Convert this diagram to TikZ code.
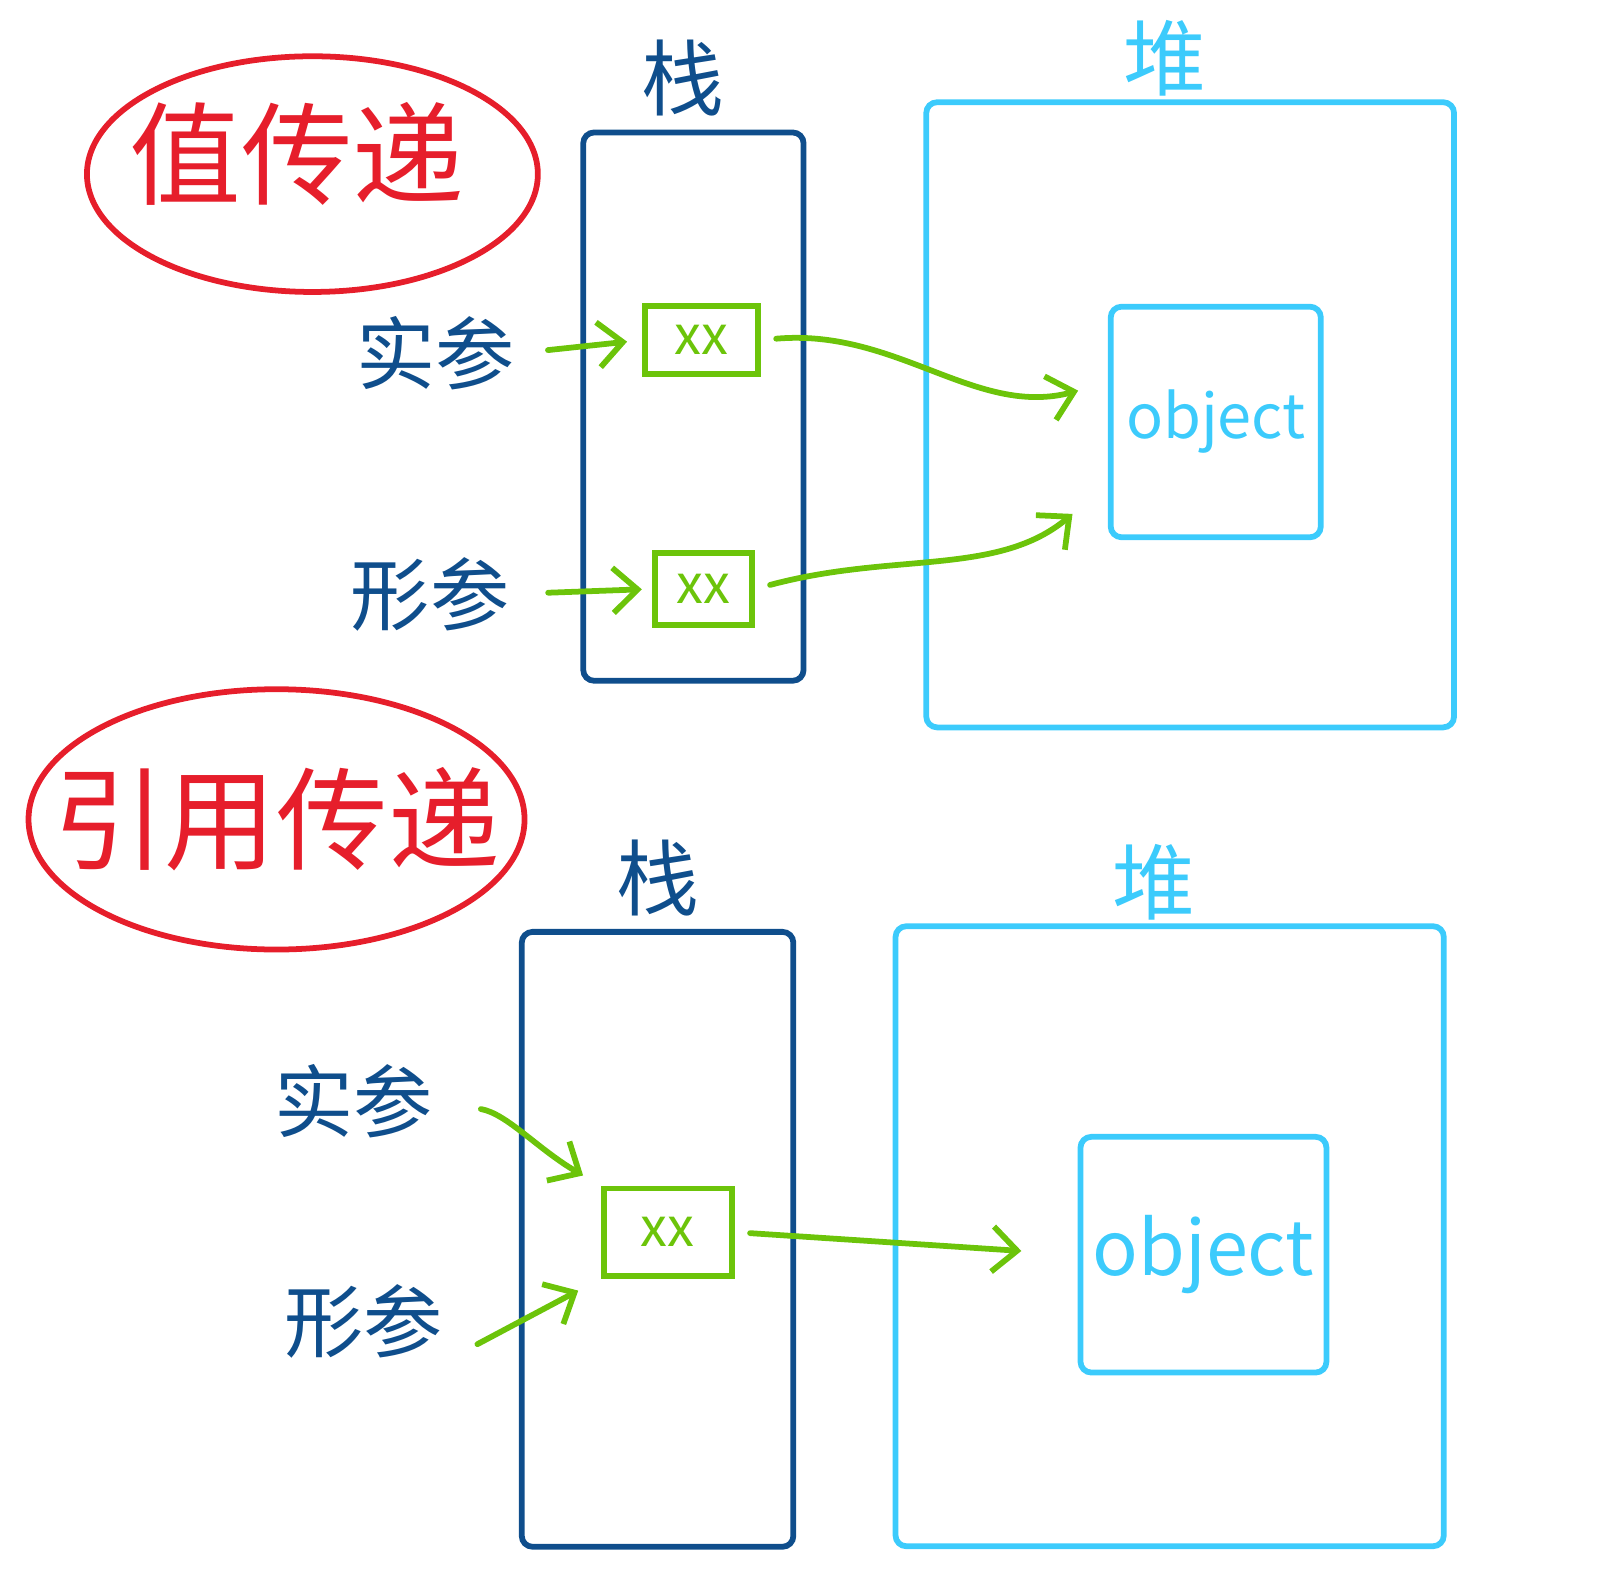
\documentclass[tikz,border=0pt]{standalone}
\usepackage{fontspec}
\setmainfont{Noto Sans CJK SC}
\usepackage{xcolor}
\usetikzlibrary{positioning, arrows.meta}

\definecolor{inkred}{HTML}{E61E2B}
\definecolor{inkblue}{HTML}{0F4E8C}
\definecolor{skyblue}{HTML}{3CCBFC}
\definecolor{leafgreen}{HTML}{6CC40A}

\begin{document}
\begin{tikzpicture}[
  x=0.01cm, y=-0.01cm,
  every node/.style={inner sep=0pt, line width=1.6pt},
  title/.style={text=inkred, font=\fontsize{31}{31}\selectfont},
  ring/.style={draw=inkred, line width=1.6pt},
  stackbox/.style={rectangle, draw=inkblue, rounded corners=3pt},
  heapbox/.style={rectangle, draw=skyblue, rounded corners=3pt},
  objbox/.style={rectangle, draw=skyblue, text=skyblue, rounded corners=3pt},
  slot/.style={rectangle, draw=leafgreen, text=leafgreen, font=\fontsize{15}{15}\selectfont},
  stacklabel/.style={text=inkblue, font=\fontsize{23}{23}\selectfont},
  heaplabel/.style={text=skyblue, font=\fontsize{23}{23}\selectfont},
  param/.style={text=inkblue, font=\fontsize{22}{22}\selectfont},
  flow/.style={draw=leafgreen, line width=1.6pt, line cap=round,
    -{Straight Barb[length=0.24cm, width=0.44cm, line width=1.6pt]}}
]
\useasboundingbox (0,0) rectangle (1568,1552);

% value passing
\node[title] (valtitle) at (290,150) {值传递};
\draw[ring] ([shift={(15,20)}]valtitle.center) ellipse [x radius=2.2cm, y radius=1.15cm];
\node[stackbox, minimum width=2.15cm, minimum height=5.35cm] (stacktop) at (677,397) {};
\node[stacklabel, above=0.1cm of stacktop, xshift=-0.1cm] (stacktoplabel) {栈};
\node[heapbox, minimum width=5.15cm, minimum height=6.1cm] (heaptop) at (1162,405) {};
\node[heaplabel, above=0.0cm of heaptop, xshift=-0.25cm] (heaptoplabel) {堆};
\node[objbox, minimum width=2.05cm, minimum height=2.25cm, font=\fontsize{17}{17}\selectfont] (objtop) at (1187,412) {object};
\node[slot, minimum width=1.1cm, minimum height=0.67cm] (slottopa) at (685,332) {xx};
\node[slot, minimum width=0.95cm, minimum height=0.7cm] (slottopb) at (687,575) {xx};
\node[param] (argtop) at (425,345) {实参};
\node[param] (partop) at (420,580) {形参};

\draw[flow, shorten <=0.3cm, shorten >=0.15cm] (argtop.east) -- (slottopa.west);
\draw[flow, shorten <=0.35cm, shorten >=0.1cm] (partop.east) -- (slottopb.west);
\draw[flow, shorten <=0.15cm, shorten >=0.3cm] (slottopa.east) to[out=5, in=195] (objtop.160);
\draw[flow, shorten <=0.15cm, shorten >=0.45cm] (slottopb.east) to[out=15, in=220] (objtop.210);

% reference passing
\node[title] (reftitle) at (270,800) {引用传递};
\draw[ring] (reftitle.center) ellipse [x radius=2.42cm, y radius=1.27cm];
\node[stackbox, minimum width=2.65cm, minimum height=6.0cm] (stackbot) at (642,1210) {};
\node[stacklabel, above=0.1cm of stackbot] (stackbotlabel) {栈};
\node[heapbox, minimum width=5.35cm, minimum height=6.05cm] (heapbot) at (1142,1207) {};
\node[heaplabel, above=0.0cm of heapbot, xshift=-0.15cm] (heapbotlabel) {堆};
\node[objbox, minimum width=2.4cm, minimum height=2.3cm, font=\fontsize{21}{21}\selectfont] (objbot) at (1175,1225) {object};
\node[slot, minimum width=1.25cm, minimum height=0.85cm] (slotbot) at (652,1203) {xx};
\node[param] (argbot) at (345,1075) {实参};
\node[param] (parbot) at (355,1290) {形参};

\draw[flow, shorten <=0.45cm, shorten >=0.2cm] (argbot.east) to[out=-10, in=150] (slotbot.north west);
\draw[flow, shorten <=0.35cm, shorten >=0.25cm] (parbot.south east) -- (slotbot.south west);
\draw[flow, shorten <=0.15cm, shorten >=0.55cm] (slotbot.east) -- (objbot.west);
\end{tikzpicture}
\end{document}
